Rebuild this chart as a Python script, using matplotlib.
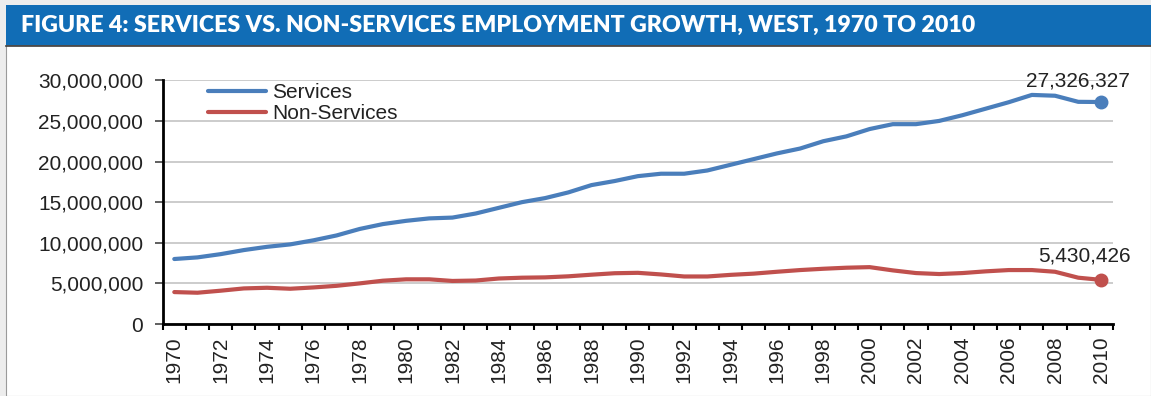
import matplotlib
matplotlib.use("Agg")
import matplotlib.pyplot as plt
from matplotlib.patches import Rectangle
from matplotlib.ticker import FuncFormatter, FixedLocator

# Employment in the West, 1970-2010
years = list(range(1970, 2011))
services = [
    8.0e6, 8.2e6, 8.6e6, 9.1e6, 9.5e6, 9.8e6, 10.3e6, 10.9e6, 11.7e6, 12.3e6,
    12.7e6, 13.0e6, 13.1e6, 13.6e6, 14.3e6, 15.0e6, 15.5e6, 16.2e6, 17.1e6, 17.6e6,
    18.2e6, 18.5e6, 18.5e6, 18.9e6, 19.6e6, 20.3e6, 21.0e6, 21.6e6, 22.5e6, 23.1e6,
    24.0e6, 24.6e6, 24.6e6, 25.0e6, 25.7e6, 26.5e6, 27.3e6, 28.2e6, 28.1e6, 27.35e6,
    27326327,
]
non_services = [
    3.93e6, 3.85e6, 4.1e6, 4.38e6, 4.46e6, 4.34e6, 4.5e6, 4.7e6, 5.0e6, 5.33e6,
    5.5e6, 5.5e6, 5.3e6, 5.35e6, 5.6e6, 5.7e6, 5.74e6, 5.87e6, 6.07e6, 6.25e6,
    6.3e6, 6.1e6, 5.85e6, 5.85e6, 6.05e6, 6.2e6, 6.43e6, 6.64e6, 6.8e6, 6.93e6,
    7.0e6, 6.6e6, 6.27e6, 6.15e6, 6.27e6, 6.48e6, 6.64e6, 6.64e6, 6.43e6, 5.7e6,
    5430426,
]
series_names = ["Services", "Non-Services"]
y_ticks = [0, 5e6, 10e6, 15e6, 20e6, 25e6, 30e6]
x_label_years = list(range(1970, 2011, 2))
title = "FIGURE 4: SERVICES VS. NON-SERVICES EMPLOYMENT GROWTH, WEST, 1970 TO 2010"

W, H = 1151, 396
fig = plt.figure(figsize=(W / 100, H / 100), dpi=100, facecolor="#ededed")


def fx(px):
    return px / W


def fy(py):
    return 1 - py / H


# page frame: white panel, blue title band
fig.patches.append(Rectangle((fx(6), 0), fx(W - 6), fy(45), transform=fig.transFigure,
                             facecolor="white", edgecolor="#9a9a9a", linewidth=0.8, zorder=0))
fig.patches.append(Rectangle((fx(6), fy(45)), fx(W - 6), 40 / H, transform=fig.transFigure,
                             facecolor="#116db6", edgecolor="none", zorder=1))
fig.add_artist(plt.Line2D([fx(6), 1], [fy(45.5), fy(45.5)], transform=fig.transFigure,
                          color="#3c3c3c", linewidth=1.2, zorder=2))

t = fig.text(fx(21), fy(25), title, color="white", fontfamily="Lato", fontweight="heavy",
             fontsize=15, va="center", ha="left", zorder=3)
fig.canvas.draw()
bb = t.get_window_extent()
t.set_fontsize(15 * 961 / bb.width)

# plot area
left, right, top, bottom = 162.7, 1113, 80.3, 324
ax = fig.add_axes([fx(left), fy(bottom), fx(right - left), (bottom - top) / H])
ax.set_zorder(10)
ax.set_facecolor("none")

blue = "#4a7ebb"
red = "#c0504d"
ax.plot(years, services, color=blue, linewidth=3.0, solid_capstyle="round",
        solid_joinstyle="round", label=series_names[0], zorder=3)
ax.plot(years, non_services, color=red, linewidth=3.0, solid_capstyle="round",
        solid_joinstyle="round", label=series_names[1], zorder=3)
ax.plot(years[-1], services[-1], "o", color=blue, markersize=9, zorder=4)
ax.plot(years[-1], non_services[-1], "o", color=red, markersize=9, zorder=4)

lab_font = dict(fontfamily="Liberation Sans", fontsize=15, color="#222222")
ax.annotate(f"{services[-1]:,}", (years[-1], services[-1]), xytext=(28, 12),
            textcoords="offset pixels", ha="right", va="bottom", **lab_font)
ax.annotate(f"{non_services[-1]:,}", (years[-1], non_services[-1]), xytext=(29, 14),
            textcoords="offset pixels", ha="right", va="bottom", **lab_font)

ax.set_xlim(years[0] - 0.5, years[-1] + 0.5)
ax.set_ylim(0, 30e6)

ax.yaxis.set_major_locator(FixedLocator(y_ticks))
ax.yaxis.set_major_formatter(FuncFormatter(lambda v, p: f"{int(v):,}"))
ax.tick_params(axis="y", which="major", length=6, width=1.2, color="#444444",
               labelsize=15, labelcolor="#222222", pad=8)
for lbl in ax.get_yticklabels():
    lbl.set_fontfamily("Liberation Sans")

# category boundaries carry the ticks, labels sit on the year centres
ax.xaxis.set_major_locator(FixedLocator([y - 0.5 for y in years] + [years[-1] + 0.5]))
ax.xaxis.set_major_formatter(FuncFormatter(lambda v, p: ""))
ax.xaxis.set_minor_locator(FixedLocator(x_label_years))
ax.xaxis.set_minor_formatter(FuncFormatter(lambda v, p: f"{int(round(v))}"))
ax.tick_params(axis="x", which="major", length=4, width=1.5, color="black")
ax.tick_params(axis="x", which="minor", length=0, labelsize=15, labelcolor="#222222",
               pad=9, labelrotation=90)
for lbl in ax.xaxis.get_minorticklabels():
    lbl.set_fontfamily("Liberation Sans")

ax.grid(axis="y", color="#c4c4c4", linewidth=1.2, zorder=0)
ax.set_axisbelow(True)
for side in ("top", "right"):
    ax.spines[side].set_visible(False)
for side in ("left", "bottom"):
    ax.spines[side].set_linewidth(2.0)
    ax.spines[side].set_color("black")

leg = ax.legend(loc="upper left", bbox_to_anchor=(fx(208), fy(83)),
                bbox_transform=fig.transFigure, frameon=False, borderpad=0,
                borderaxespad=0, handlelength=2.76, handletextpad=0.33,
                labelspacing=0.1, prop={"family": "Liberation Sans", "size": 15})
for txt in leg.get_texts():
    txt.set_color("#222222")

fig.savefig("out.png", dpi=100, facecolor=fig.get_facecolor())
